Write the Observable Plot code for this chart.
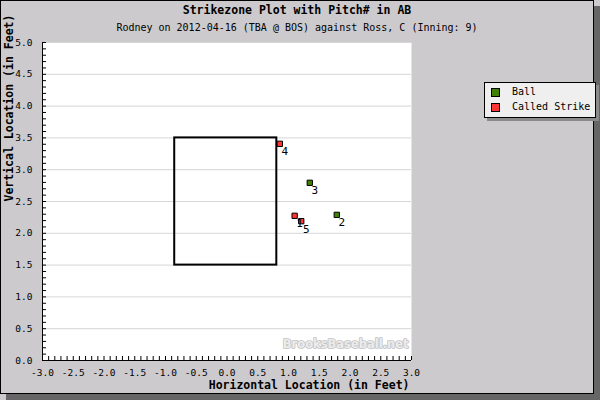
<!DOCTYPE html>
<html><head><meta charset="utf-8">
<script src="https://cdn.jsdelivr.net/npm/d3@7"></script>
<script src="https://cdn.jsdelivr.net/npm/@observablehq/plot@0.6"></script>
<style>
body{margin:0;width:600px;height:400px;overflow:hidden;position:relative;background:#cdcacd;font-family:"DejaVu Sans Mono",monospace;color:#000}
#frame{position:absolute;left:0;top:0;width:592px;height:392px;border:1px solid #000;background:#cdcacd;box-shadow:6px 6px 0 #666}
#chart{position:absolute;left:0;top:0}
.title{position:absolute;left:0;width:594px;text-align:center;white-space:nowrap}
#t1{top:3px;font-weight:bold;font-size:11.5px}
#t2{top:22px;font-size:10px}
#legend{position:absolute;left:484px;top:82px;width:110px;height:34px;border:1px solid #000;background:#efefef;box-shadow:3px 3px 0 #8a8a8a;font-size:10px}
.item{position:absolute;left:6px;height:10px;line-height:10px;white-space:nowrap}
.sw{display:inline-block;width:7px;height:7px;border:1px solid #000;vertical-align:top;margin-top:0px}
.lab{position:absolute;left:21px;top:-1px}
</style></head>
<body>
<div id="frame"></div>
<div id="chart"></div>
<div class="title" id="t1"></div>
<div class="title" id="t2"></div>
<div id="legend"></div>
<script>
const titleText = "Strikezone Plot with Pitch# in AB";
const subtitleText = "Rodney on 2012-04-16 (TBA @ BOS) against Ross, C (Inning: 9)";
const xLabel = "Horizontal Location (in Feet)";
const yLabel = "Vertical Location (in Feet)";
const watermark = "BrooksBaseball.net";

const pitchNum = [1, 2, 3, 4, 5];
const pxVals = [1.10, 1.785, 1.346, 0.859, 1.207];
const pzVals = [2.275, 2.29, 2.794, 3.407, 2.19];
const pitchType = ["Called Strike", "Ball", "Ball", "Called Strike", "Called Strike"];

const zoneX = [-0.85, 0.81];
const zoneY = [1.5, 3.5];

const xTicks = d3.range(-30, 31, 5).map(d => d / 10);
const yTicks = d3.range(0, 51, 5).map(d => d / 10);
const xMinor = d3.range(-30, 31).map(d => d / 10);
const yMinor = d3.range(0, 51).map(d => d / 10);

const legendLabels = ["Ball", "Called Strike"];
const legendColors = ["#408000", "#ff3636"];

const data = pitchNum.map((n, i) => ({n, x: pxVals[i], y: pzVals[i], type: pitchType[i]}));
const zone = [{x1: zoneX[0], x2: zoneX[1], y1: zoneY[0], y2: zoneY[1]}];

const chart = Plot.plot({
  width: 600, height: 400,
  marginLeft: 42, marginRight: 189, marginTop: 42, marginBottom: 40,
  style: {background: "transparent", fontFamily: "DejaVu Sans Mono", fontSize: "10px", color: "#000", overflow: "visible"},
  x: {domain: [-3, 3]},
  y: {domain: [0, 5]},
  color: {domain: legendLabels, range: legendColors},
  marks: [
    Plot.frame({fill: "white", stroke: null}),
    Plot.gridY(yTicks, {stroke: "#d6d6d6", strokeOpacity: 1}),
    Plot.text([watermark], {frameAnchor: "bottom-right", dx: -3, dy: -13, textAnchor: "end", fontFamily: "DejaVu Sans", fontWeight: "bold", fontSize: 11.5, fill: "#ececec", stroke: "#c2c2c2", strokeWidth: 1.6, paintOrder: "stroke"}),
    Plot.axisX({ticks: xMinor, tickSize: -4, tickFormat: () => "", label: null}),
    Plot.axisY({ticks: yMinor, tickSize: -4, tickFormat: () => "", label: null}),
    Plot.axisX({ticks: xTicks, tickSize: 0, tickPadding: 9, tickFormat: d => d.toFixed(1), label: null, fontSize: 9.5}),
    Plot.axisY({ticks: yTicks, tickSize: 0, tickPadding: 10, tickFormat: d => d.toFixed(1), label: null, fontSize: 9.5}),
    Plot.ruleX([-3], {stroke: "black"}),
    Plot.ruleY([0], {stroke: "black"}),
    Plot.rect(zone, {x1: "x1", x2: "x2", y1: "y1", y2: "y2", fill: "none", stroke: "black", strokeWidth: 2}),
    Plot.dot(data, {x: "x", y: "y", symbol: "square", r: 3, fill: "type", stroke: "black", strokeWidth: 1}),
    Plot.text(data, {x: "x", y: "y", text: "n", dx: 5, dy: 8, fontSize: 11}),
    Plot.text([xLabel], {frameAnchor: "bottom-right", dx: -2, dy: 28, textAnchor: "end", fontWeight: "bold", fontSize: 11.5}),
    Plot.text([yLabel], {frameAnchor: "left", dx: -33, rotate: -90, fontWeight: "bold", fontSize: 11.5})
  ]
});
document.getElementById("chart").appendChild(chart);
document.getElementById("t1").textContent = titleText;
document.getElementById("t2").textContent = subtitleText;
const lg = document.getElementById("legend");
legendLabels.forEach((l, i) => {
  const it = document.createElement("div");
  it.className = "item";
  it.style.top = (5 + i * 15) + "px";
  const sw = document.createElement("span");
  sw.className = "sw";
  sw.style.background = legendColors[i];
  const lb = document.createElement("span");
  lb.className = "lab";
  lb.textContent = l;
  it.appendChild(sw); it.appendChild(lb);
  lg.appendChild(it);
});
</script>
</body></html>
